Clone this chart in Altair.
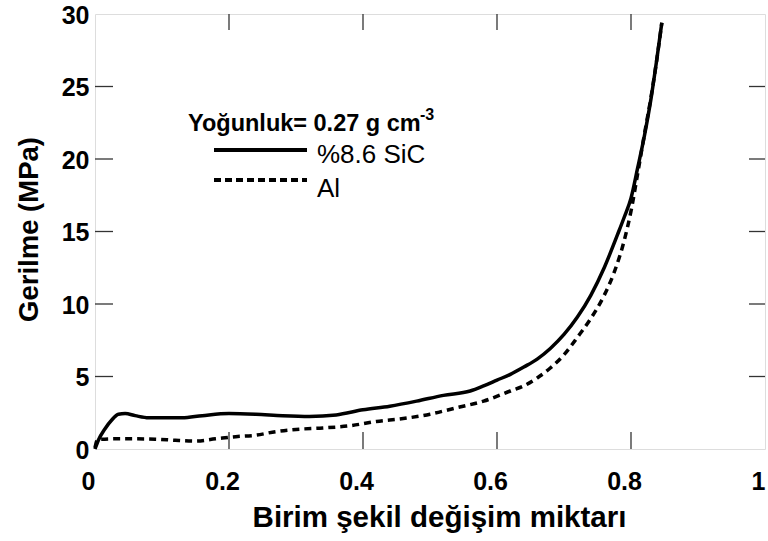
import altair as alt
import pandas as pd

# --- data ---
sic_x = [0, 0.005, 0.015, 0.025, 0.035, 0.045, 0.06, 0.08, 0.1, 0.13, 0.16, 0.2, 0.24, 0.28,
         0.32, 0.36, 0.4, 0.44, 0.48, 0.52, 0.56, 0.58, 0.6, 0.62, 0.64, 0.66, 0.68, 0.7,
         0.72, 0.74, 0.76, 0.78, 0.79, 0.8, 0.81, 0.82, 0.83, 0.838, 0.846]
sic_y = [0, 0.6, 1.4, 2.0, 2.4, 2.45, 2.3, 2.15, 2.15, 2.15, 2.3, 2.45, 2.4, 2.3,
         2.25, 2.35, 2.7, 2.95, 3.3, 3.7, 4.0, 4.35, 4.75, 5.15, 5.65, 6.2, 6.95, 7.9,
         9.1, 10.6, 12.5, 14.8, 16.0, 17.3, 19.4, 21.6, 24.2, 26.7, 29.4]

al_x = [0, 0.004, 0.03, 0.06, 0.09, 0.12, 0.15, 0.18, 0.21, 0.24, 0.27, 0.3, 0.34, 0.38,
        0.42, 0.46, 0.5, 0.54, 0.58, 0.62, 0.64, 0.66, 0.68, 0.7, 0.72, 0.74, 0.76,
        0.775, 0.79, 0.8, 0.81, 0.82, 0.83, 0.838, 0.846]
al_y = [0.1, 0.65, 0.7, 0.7, 0.68, 0.6, 0.55, 0.7, 0.85, 0.95, 1.2, 1.35, 1.45, 1.6,
        1.9, 2.1, 2.4, 2.85, 3.3, 4.0, 4.35, 4.9, 5.6, 6.5, 7.7, 9.0, 10.6,
        12.2, 14.4, 16.4, 19.0, 21.7, 24.3, 26.7, 29.4]

x_ticks = [0, 0.2, 0.4, 0.6, 0.8, 1]
y_ticks = [0, 5, 10, 15, 20, 25, 30]
x_inner = [0.2, 0.4, 0.6, 0.8]
y_inner = [5, 10, 15, 20, 25]

series_names = ["%8.6 SiC", "Al"]
legend_title = "Yoğunluk= 0.27 g cm"
legend_sup = "-3"
x_title = "Birim şekil değişim miktarı"
y_title = "Gerilme (MPa)"

W, H = 670, 435
FONT = "Liberation Sans"

df_sic = pd.DataFrame({"x": sic_x, "y": sic_y})
df_al = pd.DataFrame({"x": al_x, "y": al_y})

xscale = alt.Scale(domain=[0, 1], nice=False, zero=False)
yscale = alt.Scale(domain=[0, 30], nice=False, zero=False)

xaxis = alt.Axis(values=x_ticks, format=".1~f", labelFont=FONT, labelFontWeight="bold",
                 labelFontSize=25, labelPadding=20, labelOffset=-7, labelFlush=False,
                 labelOverlap=False, ticks=False, domain=False, grid=False,
                 labelColor="black", title=x_title, titleFont=FONT, titleFontSize=29.5,
                 titleFontWeight="bold", titleColor="black", titleX=344, titleY=77,
                 titleBaseline="alphabetic", titleAlign="center")
yaxis = alt.Axis(values=y_ticks, labelFont=FONT, labelFontWeight="bold",
                 labelFontSize=25, labelPadding=6, labelOffset=1, labelFlush=False,
                 labelOverlap=False, ticks=False, domain=False, grid=False,
                 labelColor="black", title=y_title, titleFont=FONT, titleFontSize=27.5,
                 titleFontWeight="bold", titleColor="black", titleX=-58, titleY=215,
                 titleAngle=270, titleBaseline="alphabetic", titleAlign="center")

sic_line = alt.Chart(df_sic).mark_line(color="black", strokeWidth=3.5, interpolate="monotone").encode(
    x=alt.X("x:Q", scale=xscale, axis=xaxis),
    y=alt.Y("y:Q", scale=yscale, axis=yaxis),
)
al_line = alt.Chart(df_al).mark_line(color="black", strokeWidth=3.5, strokeDash=[7, 5],
                                     interpolate="monotone").encode(
    x=alt.X("x:Q", scale=xscale),
    y=alt.Y("y:Q", scale=yscale),
)

df_xt = pd.DataFrame({"t": x_inner})
df_yt = pd.DataFrame({"t": y_inner})
tick_style = dict(color="#333333", strokeWidth=1.3)
xt_bottom = alt.Chart(df_xt).mark_rule(**tick_style).encode(
    x=alt.X("t:Q", scale=xscale), y=alt.value(H), y2=alt.value(H - 17))
xt_top = alt.Chart(df_xt).mark_rule(**tick_style).encode(
    x=alt.X("t:Q", scale=xscale), y=alt.value(0), y2=alt.value(16))
yt_left = alt.Chart(df_yt).mark_rule(**tick_style).encode(
    y=alt.Y("t:Q", scale=yscale), x=alt.value(0), x2=alt.value(18))
yt_right = alt.Chart(df_yt).mark_rule(**tick_style).encode(
    y=alt.Y("t:Q", scale=yscale), x=alt.value(W), x2=alt.value(W - 16))

one = pd.DataFrame({"k": [0]})
leg_title = alt.Chart(one).mark_text(align="left", baseline="alphabetic", font=FONT,
                                      fontSize=23.5, fontWeight="bold", color="black").encode(
    x=alt.value(93), y=alt.value(117), text=alt.value(legend_title))
leg_sup = alt.Chart(one).mark_text(align="left", baseline="alphabetic", font=FONT,
                                    fontSize=16, fontWeight="bold", color="black").encode(
    x=alt.value(325), y=alt.value(106), text=alt.value(legend_sup))
leg_solid = alt.Chart(one).mark_rule(color="black", strokeWidth=4).encode(
    x=alt.value(119), x2=alt.value(212), y=alt.value(136))
leg_dash = alt.Chart(one).mark_rule(color="black", strokeWidth=4, strokeDash=[7, 4]).encode(
    x=alt.value(119), x2=alt.value(212), y=alt.value(166))
leg_t1 = alt.Chart(one).mark_text(align="left", baseline="alphabetic", font=FONT,
                                   fontSize=26, color="black").encode(
    x=alt.value(222), y=alt.value(149), text=alt.value(series_names[0]))
leg_t2 = alt.Chart(one).mark_text(align="left", baseline="alphabetic", font=FONT,
                                   fontSize=26, color="black").encode(
    x=alt.value(222), y=alt.value(183), text=alt.value(series_names[1]))

chart = alt.layer(
    sic_line, al_line, xt_bottom, xt_top, yt_left, yt_right,
    leg_title, leg_sup, leg_solid, leg_dash, leg_t1, leg_t2,
).properties(
    width=W, height=H,
    autosize=alt.AutoSizeParams(type="none"),
    padding={"left": 95, "top": 14, "right": 3, "bottom": 92},
    background="white",
).configure_view(
    stroke="black", strokeWidth=1.5,
).configure(font=FONT)

chart.save("out.html", embed_options={"renderer": "svg", "actions": False})
